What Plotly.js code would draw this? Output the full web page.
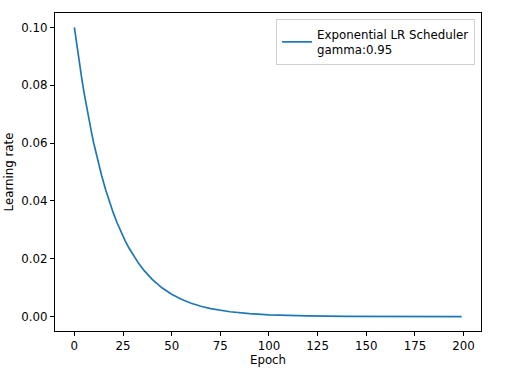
<!DOCTYPE html>
<html>
<head>
<meta charset="utf-8">
<script src="https://cdn.plot.ly/plotly-3.0.1.min.js"></script>
<style>html,body{margin:0;padding:0;background:#fff;}#chart{width:512px;height:370px;}</style>
</head>
<body>
<div id="chart"></div>
<script>
// Values
const epochs = [0,1,2,3,4,5,6,7,8,9,10,12,14,16,18,20,22,24,26,28,30,33,36,40,45,50,55,60,65,70,80,90,100,110,120,140,160,180,199];
const learningRate = [0.1,0.095,0.09025,0.08574,0.08145,0.07738,0.07351,0.06983,0.06634,0.06302,0.05987,0.05404,0.04877,0.04401,0.03972,0.03585,0.03235,0.02920,0.02635,0.02378,0.02146,0.01840,0.01578,0.01285,0.009944,0.007694,0.005954,0.004607,0.003565,0.002758,0.001652,0.000989,0.000592,0.000354,0.000212,0.0000761,0.0000273,0.0000098,0.0000037];
const seriesName = 'Exponential LR Scheduler<br>gamma:0.95';
const xTitle = 'Epoch';
const yTitle = 'Learning rate';

const font = {family: 'DejaVu Sans', size: 11.8, color: '#000'};
const axisCommon = {
  showline: true, mirror: true, linecolor: '#000', linewidth: 1,
  ticks: 'outside', ticklen: 4, tickwidth: 1, tickcolor: '#000',
  showgrid: false, zeroline: false, tickfont: font
};

Plotly.newPlot('chart', [{
  x: epochs, y: learningRate, type: 'scatter', mode: 'lines',
  name: seriesName, line: {color: '#1f77b4', width: 1.7}
}], {
  width: 512, height: 370,
  margin: {l: 55, r: 31, t: 13, b: 39},
  paper_bgcolor: '#fff', plot_bgcolor: '#fff',
  font: font,
  showlegend: true,
  legend: {x: 0.986, y: 0.981, xanchor: 'right', yanchor: 'top',
    bordercolor: '#d0d0d0', borderwidth: 1, bgcolor: '#fff', font: font},
  xaxis: Object.assign({}, axisCommon, {range: [-9.95, 208.95], dtick: 25, tick0: 0,
    title: {text: xTitle, font: font, standoff: 3}}),
  yaxis: Object.assign({}, axisCommon, {range: [-0.005, 0.105], dtick: 0.02, tick0: 0, tickformat: '.2f',
    title: {text: yTitle, font: font, standoff: 5}})
}, {displayModeBar: false, staticPlot: true});
</script>
</body>
</html>
